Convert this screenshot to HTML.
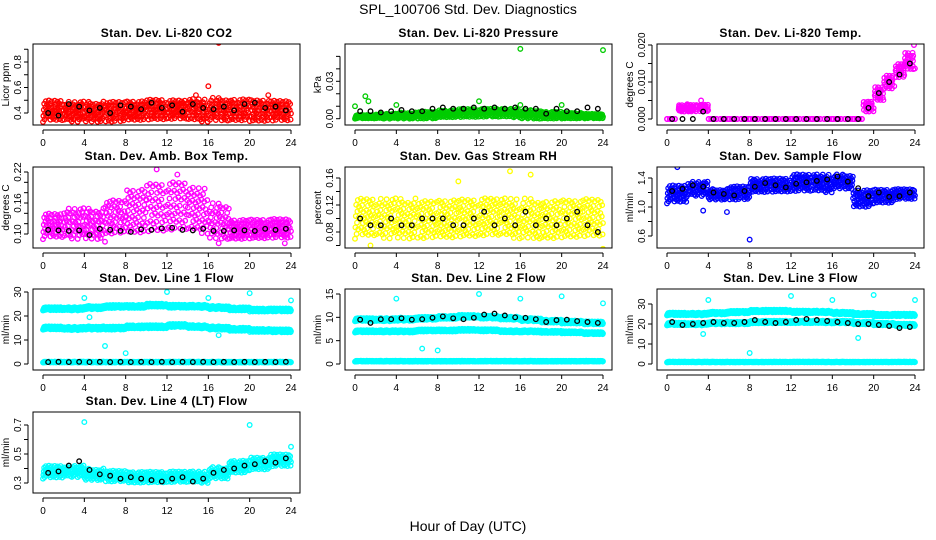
<!DOCTYPE html>
<html><head><meta charset="utf-8"><style>
body{margin:0;background:#fff;}
svg{display:block;font-family:"Liberation Sans",sans-serif;}
</style></head><body>
<svg id="chart" width="936" height="540" xmlns="http://www.w3.org/2000/svg">
<text x="468" y="14" text-anchor="middle" font-size="14">SPL_100706  Std. Dev. Diagnostics</text>
<text x="468" y="531" text-anchor="middle" font-size="14">Hour of Day (UTC)</text>
</svg>
<script>
const hourTicks=[0,4,8,12,16,20,24];
// band data: lower/upper bounds of colored point clouds, evenly spaced bins over 24 h
const co2Lo=[0.33,0.33,0.33,0.33,0.34,0.34,0.34,0.33,0.34,0.34,0.33,0.33];
const co2Hi=[0.50,0.49,0.49,0.50,0.50,0.51,0.50,0.51,0.52,0.52,0.51,0.50];
const co2Black=[0.40,0.38,0.47,0.45,0.42,0.44,0.40,0.46,0.45,0.43,0.48,0.44,0.46,0.41,0.47,0.44,0.43,0.45,0.42,0.47,0.48,0.44,0.45,0.42];
const co2Out=[[17,0.95],[16,0.61],[14.8,0.54],[21.8,0.54]];
const presLo=[0.000,0.000,0.000,0.000,0.001,0.001,0.001,0.001,0.000,0.000,0.000,0.000];
const presHi=[0.003,0.004,0.005,0.006,0.007,0.008,0.008,0.008,0.007,0.006,0.005,0.004];
const presBlack=[0.006,0.006,0.005,0.006,0.007,0.006,0.006,0.008,0.009,0.008,0.008,0.009,0.008,0.009,0.008,0.009,0.008,0.008,0.004,0.008,0.006,0.006,0.009,0.008];
const presOut=[[0,0.010],[1,0.018],[1.3,0.014],[4,0.011],[8,0.063],[12,0.014],[16,0.056],[16,0.011],[20,0.011],[24,0.055]];
const tempLo=[0,0.002,0.002,0.002,0,0,0,0,0,0,0,0,0,0,0,0,0,0,0,0.002,0.005,0.008,0.011,0.013];
const tempHi=[0,0.004,0.004,0.004,0,0,0,0,0,0,0,0,0,0,0,0,0,0,0,0.005,0.009,0.012,0.015,0.018];
const tempBlack=[0,0,0,0.002,0,0,0,0,0,0,0,0,0,0,0,0,0,0,0,0.003,0.007,0.010,0.012,0.015];
const tempOut=[[3.3,0.005],[23.9,0.020]];
const ambLo=[0.09,0.09,0.09,0.10,0.10,0.10,0.10,0.10,0.09,0.09,0.09,0.09];
const ambHi=[0.14,0.15,0.15,0.17,0.19,0.20,0.20,0.19,0.16,0.13,0.13,0.13];
const ambBlack=[0.108,0.107,0.106,0.107,0.098,0.110,0.108,0.106,0.104,0.109,0.108,0.111,0.112,0.108,0.107,0.110,0.106,0.106,0.107,0.107,0.106,0.110,0.108,0.110];
const ambOut=[[11,0.225],[13,0.215],[6,0.085],[17,0.082],[23.4,0.082]];
const rhLo=[0.07,0.07,0.07,0.07,0.07,0.07,0.07,0.07,0.07,0.07,0.07,0.07];
const rhHi=[0.13,0.13,0.13,0.13,0.13,0.13,0.13,0.13,0.13,0.13,0.13,0.13];
const rhBlack=[0.10,0.09,0.09,0.10,0.09,0.09,0.10,0.10,0.10,0.09,0.09,0.10,0.11,0.09,0.10,0.09,0.11,0.09,0.10,0.09,0.10,0.11,0.09,0.08];
const rhOut=[[15,0.17],[17,0.165],[24,0.055],[10,0.155],[1.5,0.06]];
const flowLo=[1.05,1.15,1.10,1.10,1.20,1.20,1.20,1.20,1.25,1.00,1.05,1.10];
const flowHi=[1.30,1.35,1.25,1.30,1.40,1.40,1.45,1.45,1.45,1.25,1.25,1.25];
const flowBlack=[1.22,1.25,1.30,1.28,1.20,1.18,1.16,1.22,1.28,1.33,1.30,1.27,1.32,1.34,1.36,1.38,1.42,1.35,1.26,1.15,1.20,1.14,1.15,1.20];
const flowOut=[[8,0.55],[1,1.55],[5.8,0.93],[3.5,0.95]];
const l1Top=[23,23,23.5,24,24,24.5,24,24,23.5,23,22.5,22.5];
const l1Mid=[15,14.8,15,15,15.5,15.5,16,15.5,15,14.5,14,13.8];
const l1Low=[0.8,0.8,0.8,0.8,0.8,0.8,0.8,0.8,0.8,0.8,0.8,0.8];
const l1Black=[0.8,0.9,0.8,0.9,0.8,0.9,0.8,0.9,0.8,0.9,0.8,0.9,0.8,0.9,0.8,0.9,0.8,0.9,0.8,0.9,0.8,0.9,0.8,0.9];
const l1Out=[[4,27.5],[6,7.5],[8,4.5],[12,30],[16,27.5],[20,29.5],[24,26.5],[17,12],[4.5,19.5]];
const l2Top=[9.5,9.5,9.6,9.8,10,10.2,10,9.8,9.5,9.2,9.0,8.8];
const l2Mid=[7,7,7,7.2,7.2,7.3,7.2,7,7,6.9,6.8,6.6];
const l2Low=[0.6,0.6,0.6,0.6,0.6,0.6,0.6,0.6,0.6,0.6,0.6,0.6];
const l2Black=[9.5,8.8,9.6,9.6,9.8,9.5,9.6,9.9,10.2,9.8,9.6,9.9,10.6,10.8,10.4,10.0,9.9,9.6,9.0,9.4,9.5,9.2,9.0,8.8];
const l2Out=[[4,14],[6.5,3.3],[8,2.9],[12,15],[16,14],[20,14.5],[24,13]];
const l3Top=[25,25,25.5,26,26.5,26.5,26,26,25.5,25,24.5,24.5];
const l3Mid=[20,20,20.5,20.5,21,21,21,21,21,20.5,20,19.5];
const l3Low=[1,1,1,1,1,1,1,1,1,1,1,1];
const l3Black=[21,19.5,20,20.5,21,20.5,20.5,21,22,21,20.5,21,22,22.5,22,21.5,21,20.5,20,20,19.5,19,18,18.5];
const l3Out=[[4,32],[3.5,15],[8,5.5],[12,34],[16,32],[20,34.5],[24,32],[18.5,13]];
const l4Lo=[0.33,0.34,0.32,0.31,0.30,0.30,0.30,0.30,0.33,0.37,0.39,0.41];
const l4Hi=[0.42,0.42,0.40,0.39,0.38,0.38,0.38,0.38,0.41,0.46,0.48,0.50];
const l4Black=[0.37,0.38,0.42,0.45,0.39,0.36,0.35,0.33,0.34,0.33,0.32,0.31,0.33,0.34,0.31,0.33,0.37,0.39,0.40,0.42,0.43,0.45,0.44,0.47];
const l4Out=[[4,0.72],[12,0.82],[20,0.70],[24,0.55]];

const NS="http://www.w3.org/2000/svg";
const svg=document.getElementById('chart');
function mk(tag,attrs,parent){const e=document.createElementNS(NS,tag);for(const k in attrs)e.setAttribute(k,attrs[k]);(parent||svg).appendChild(e);return e;}
function frac(v){return v-Math.floor(v);}
const cols=[[43,291],[355,603],[667,915]];
const rows=[44,167,289,412];
const BH=81;
const panels=[
 {r:0,c:0,title:"Stan. Dev. Li-820 CO2",yl:"Licor ppm",ys:[0.4,113,0.8,62],yt:[0.4,0.5,0.6,0.7,0.8,0.9],lab:[0.4,0.6,0.8],fmt:1,color:"#ff0000",bands:[[co2Lo,co2Hi]],black:co2Black,out:co2Out,name:"co2"},
 {r:0,c:1,title:"Stan. Dev. Li-820 Pressure",yl:"kPa",ys:[0,118.7,0.03,81.3],yt:[0,0.01,0.02,0.03,0.04,0.05],lab:[0,0.03],fmt:2,color:"#00cc00",bands:[[presLo,presHi]],black:presBlack,out:presOut,name:"pressure"},
 {r:0,c:2,title:"Stan. Dev. Li-820 Temp.",yl:"degrees C",ys:[0,119,0.02,45],yt:[0,0.005,0.01,0.015,0.02],lab:[0,0.01,0.02],fmt:3,color:"#ff00ff",bands:[[tempLo,tempHi]],black:tempBlack,out:tempOut,name:"temp"},
 {r:1,c:0,title:"Stan. Dev. Amb. Box Temp.",yl:"degrees C",ys:[0.10,234,0.22,172],yt:[0.10,0.12,0.14,0.16,0.18,0.20,0.22],lab:[0.10,0.16,0.22],fmt:2,color:"#ff00ff",bands:[[ambLo,ambHi]],black:ambBlack,out:ambOut,name:"amb-temp"},
 {r:1,c:1,title:"Stan. Dev. Gas Stream RH",yl:"percent",ys:[0.08,232,0.16,178],yt:[0.06,0.08,0.10,0.12,0.14,0.16],lab:[0.08,0.12,0.16],fmt:2,color:"#ffff00",bands:[[rhLo,rhHi]],black:rhBlack,out:rhOut,name:"rh"},
 {r:1,c:2,title:"Stan. Dev. Sample Flow",yl:"ml/min",ys:[0.6,236,1.4,178],yt:[0.6,0.8,1.0,1.2,1.4],lab:[0.6,1.0,1.4],fmt:1,color:"#0000ff",bands:[[flowLo,flowHi]],black:flowBlack,out:flowOut,name:"sample-flow"},
 {r:2,c:0,title:"Stan. Dev. Line 1 Flow",yl:"ml/min",ys:[0,364,30,292],yt:[0,10,20,30],fmt:0,color:"#00ffff",bands:[[l1Top,l1Top,1.4],[l1Mid,l1Mid,1.4],[l1Low,l1Low,0.4]],black:l1Black,out:l1Out,name:"line1"},
 {r:2,c:1,title:"Stan. Dev. Line 2 Flow",yl:"ml/min",ys:[0,364,15,294],yt:[0,5,10,15],fmt:0,color:"#00ffff",bands:[[l2Top,l2Top,0.7],[l2Mid,l2Mid,0.5],[l2Low,l2Low,0.2]],black:l2Black,out:l2Out,name:"line2"},
 {r:2,c:2,title:"Stan. Dev. Line 3 Flow",yl:"ml/min",ys:[0,364,30,304],yt:[0,10,20,30],fmt:0,color:"#00ffff",bands:[[l3Top,l3Top,1.4],[l3Mid,l3Mid,1.4],[l3Low,l3Low,0.4]],black:l3Black,out:l3Out,name:"line3"},
 {r:3,c:0,title:"Stan. Dev. Line 4 (LT) Flow",yl:"ml/min",ys:[0.3,483,0.7,425],yt:[0.3,0.4,0.5,0.6,0.7],lab:[0.3,0.5,0.7],fmt:1,color:"#00ffff",bands:[[l4Lo,l4Hi]],black:l4Black,out:l4Out,name:"line4"}
];
panels.forEach(p=>{
 const [x0,x24]=cols[p.c];const top=rows[p.r];const bot=top+BH;
 const bl=x0-10,br=x24+9;
 const X=h=>x0+h*(x24-x0)/24;
 const Y=v=>p.ys[1]+(v-p.ys[0])*(p.ys[3]-p.ys[1])/(p.ys[2]-p.ys[0]);
 const g=mk('g',{});
 
 
 const t=mk('text',{x:(bl+br)/2,y:top-7,'text-anchor':'middle','font-size':12,'font-weight':'bold','letter-spacing':'0.4'},g);t.textContent=p.title;
 
 const clip='clip'+p.name;
 const cp=mk('clipPath',{id:clip},g);mk('rect',{x:bl,y:top,width:br-bl,height:BH},cp);
 const pts=mk('g',{'clip-path':'url(#'+clip+')',fill:'none','stroke-width':1.3},g);
 
 const circ=(h,v,col)=>mk('circle',{cx:X(h),cy:Y(v),r:2.3,stroke:col},pts);
 p.bands.forEach(b=>{
  const lo=b[0],hi=b[1],sp=b[2]||0;
  const bw=24/lo.length;
  for(let i=0;i<lo.length;i++){
   const flat=(hi[i]-lo[i])===0&&!sp;
   const n=Math.round((flat?8:22)*bw);
   for(let k=0;k<n;k++){
    const h=i*bw+frac(k*0.7548777+i*0.13)*bw;
    const f=frac(k*0.5698403+i*0.31);
    const a=lo[i]-sp/2,bb=hi[i]+sp/2;
    circ(h,a+(bb-a)*f,p.color);
   }
  }
 });
 p.out.forEach(o=>circ(o[0],o[1],p.color));
 p.black.forEach((v,i)=>{circ(i+0.5,v,'#000');});
 const box=mk('rect',{x:bl,y:top,width:br-bl,height:BH,fill:'none',stroke:'#000','stroke-width':1},g);
 
 mk('line',{x1:X(0),x2:X(24),y1:bot+5,y2:bot+5,stroke:'#000'},g);
 hourTicks.forEach(h=>{
  mk('line',{x1:X(h),x2:X(h),y1:bot+5,y2:bot+9,stroke:'#000'},g);
  const tl=mk('text',{x:X(h),y:bot+21,'text-anchor':'middle','font-size':10},g);tl.textContent=h;
 });
 const yv=p.yt;
 mk('line',{x1:bl-5,x2:bl-5,y1:Y(yv[0]),y2:Y(yv[yv.length-1]),stroke:'#000'},g);
 const labs=p.lab||yv;
 yv.forEach(v=>{
  mk('line',{x1:bl-9,x2:bl-5,y1:Y(v),y2:Y(v),stroke:'#000'},g);
 });
 labs.forEach(v=>{
  const yy=Y(v);const tx=bl-12;
  const tl=mk('text',{x:tx,y:yy,'text-anchor':'middle','font-size':10,transform:`rotate(-90 ${tx} ${yy})`},g);
  tl.textContent=v.toFixed(p.fmt);
 });
 const yc=(top+bot)/2,lx=bl-24;
 const ylt=mk('text',{x:lx,y:yc,'text-anchor':'middle','font-size':10,transform:`rotate(-90 ${lx} ${yc})`},g);
 ylt.textContent=p.yl;
 
});
</script>
</body></html>
